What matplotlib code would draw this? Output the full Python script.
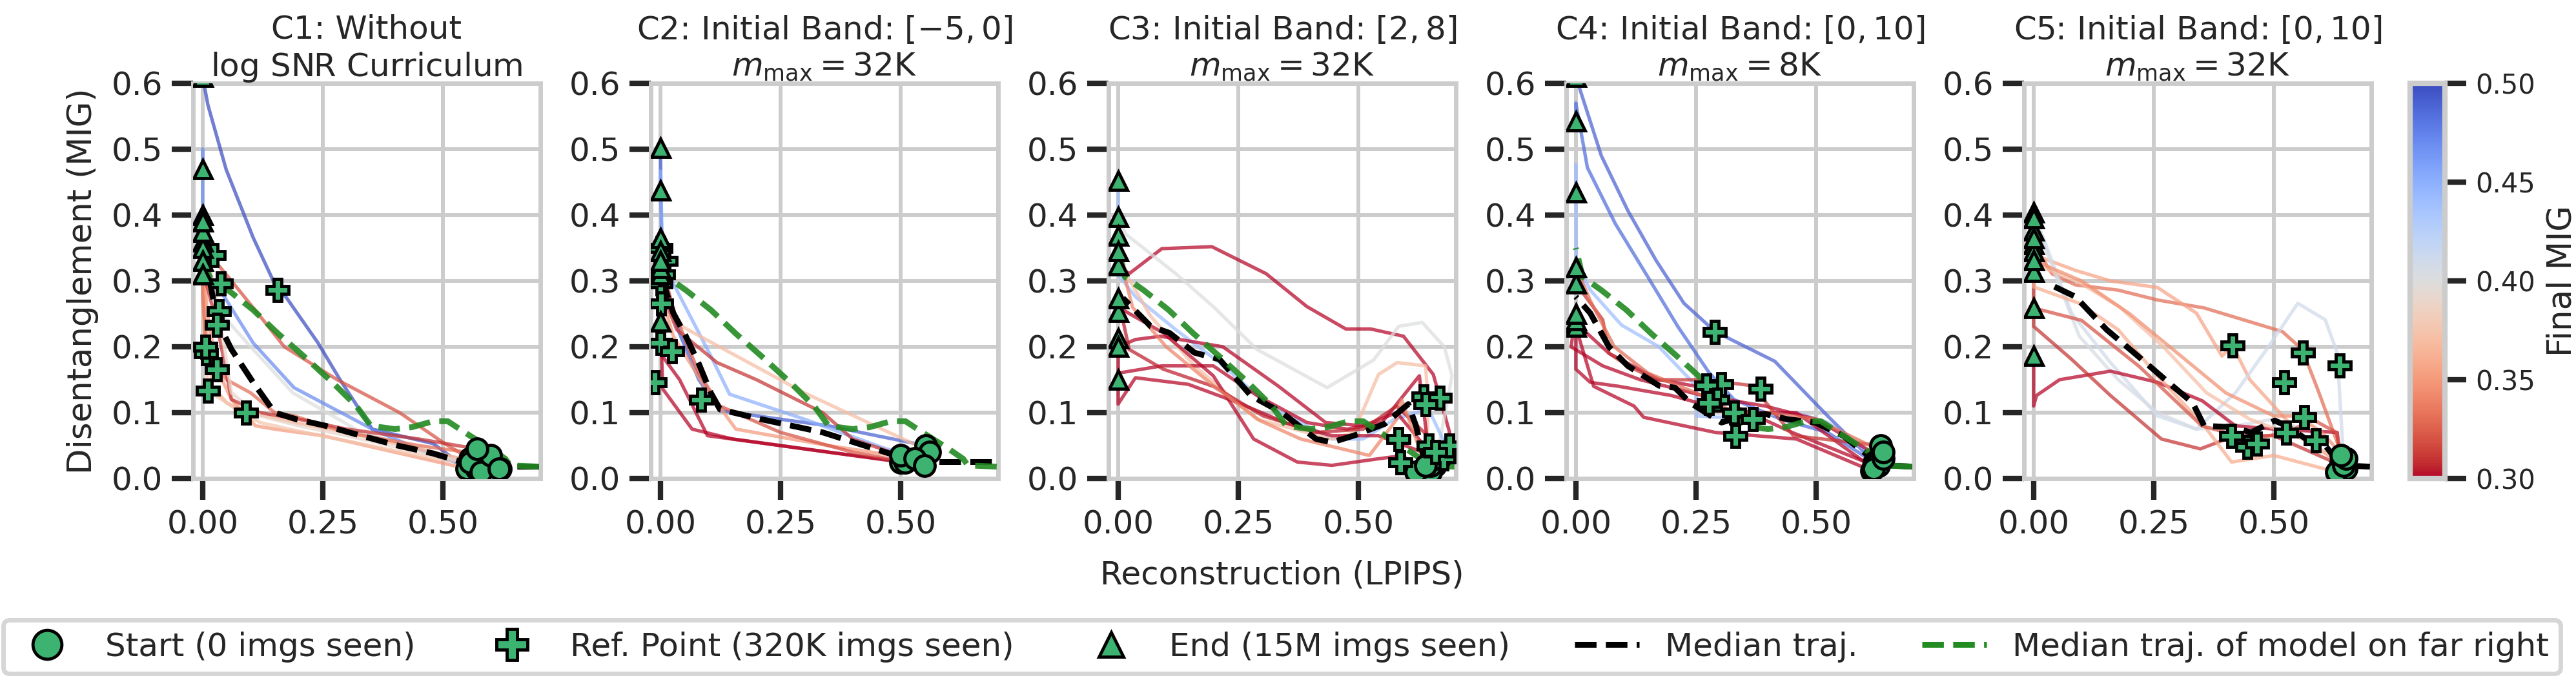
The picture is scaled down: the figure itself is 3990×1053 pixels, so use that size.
import numpy as np
import matplotlib
matplotlib.use("Agg")
import matplotlib.pyplot as plt
import seaborn as sns
from matplotlib.colors import Normalize
from matplotlib.lines import Line2D
from matplotlib.cm import ScalarMappable

sns.set_theme(style="whitegrid")
plt.rcParams["font.family"] = ["DejaVu Sans"]
plt.rcParams["mathtext.fontset"] = "dejavusans"

# ---- data ----
titles = [
    "C1: Without\n$\\log\\,$SNR Curriculum",
    "C2: Initial Band: $[-5, 0]$\n$m_{\\max} = 32$K",
    "C3: Initial Band: $[2, 8]$\n$m_{\\max} = 32$K",
    "C4: Initial Band: $[0, 10]$\n$m_{\\max} = 8$K",
    "C5: Initial Band: $[0, 10]$\n$m_{\\max} = 32$K",
]

# trajectories: (lpips list, mig list), from start to end
c1_traj = [
    ([0.55, 0.48, 0.353, 0.286, 0.24, 0.173, 0.156, 0.105, 0.049, 0.011, 0.0],
     [0.015, 0.053, 0.075, 0.15, 0.206, 0.276, 0.286, 0.366, 0.469, 0.567, 0.61]),
    ([0.57, 0.48, 0.353, 0.19, 0.105, 0.045, 0.02, 0.003, 0.0, 0.0, 0.0],
     [0.015, 0.035, 0.075, 0.138, 0.206, 0.276, 0.30, 0.33, 0.42, 0.50, 0.47]),
    ([0.556, 0.50, 0.41, 0.28, 0.17, 0.12, 0.06, 0.026, 0.01, 0.0],
     [0.03, 0.055, 0.10, 0.15, 0.20, 0.246, 0.30, 0.33, 0.33, 0.31]),
    ([0.556, 0.48, 0.33, 0.188, 0.10, 0.034, 0.01, 0.0],
     [0.025, 0.04, 0.07, 0.13, 0.20, 0.254, 0.30, 0.40]),
    ([0.60, 0.45, 0.30, 0.19, 0.13, 0.09, 0.05, 0.02, 0.005, 0.0],
     [0.02, 0.045, 0.07, 0.085, 0.095, 0.10, 0.115, 0.14, 0.25, 0.36]),
    ([0.58, 0.40, 0.25, 0.15, 0.11, 0.06, 0.03, 0.01, 0.0],
     [0.01, 0.04, 0.065, 0.075, 0.08, 0.12, 0.166, 0.25, 0.35]),
    ([0.62, 0.45, 0.28, 0.18, 0.12, 0.08, 0.04, 0.011, 0.0, 0.0],
     [0.015, 0.035, 0.06, 0.075, 0.085, 0.10, 0.12, 0.133, 0.25, 0.375]),
    ([0.60, 0.45, 0.30, 0.19, 0.15, 0.10, 0.05, 0.008, 0.0, 0.0],
     [0.035, 0.05, 0.07, 0.095, 0.10, 0.13, 0.15, 0.19, 0.28, 0.33]),
    ([0.571, 0.45, 0.30, 0.20, 0.12, 0.06, 0.03, 0.01, 0.0],
     [0.045, 0.06, 0.075, 0.09, 0.10, 0.12, 0.233, 0.29, 0.31]),
    ([0.617, 0.45, 0.30, 0.20, 0.12, 0.06, 0.034, 0.01, 0.0],
     [0.015, 0.04, 0.065, 0.08, 0.095, 0.13, 0.25, 0.34, 0.39]),
]
c1_final = [0.50, 0.47, 0.32, 0.40, 0.36, 0.35, 0.375, 0.33, 0.31, 0.39]
c1_ref_x = [0.156, 0.0225, 0.0376, 0.034, 0.03, 0.0075, 0.03, 0.011, 0.09, 0.005]
c1_ref_y = [0.286, 0.339, 0.296, 0.254, 0.233, 0.19, 0.166, 0.133, 0.10, 0.20]
c1_med_x = [0.70, 0.60, 0.54, 0.48, 0.406, 0.33, 0.256, 0.195, 0.15, 0.105, 0.06, 0.03, 0.015, 0.004]
c1_med_y = [0.018, 0.018, 0.025, 0.038, 0.05, 0.065, 0.08, 0.09, 0.10, 0.146, 0.196, 0.24, 0.30, 0.356]

c2_traj = [
    ([0.552, 0.45, 0.35, 0.25, 0.124, 0.08, 0.04, 0.015, 0.003, 0.0],
     [0.05, 0.065, 0.08, 0.09, 0.103, 0.15, 0.22, 0.27, 0.33, 0.502]),
    ([0.55, 0.47, 0.30, 0.144, 0.105, 0.027, 0.005, 0.0, 0.0],
     [0.03, 0.045, 0.09, 0.128, 0.186, 0.296, 0.33, 0.467, 0.437]),
    ([0.56, 0.52, 0.30, 0.047, 0.02, 0.0],
     [0.04, 0.055, 0.13, 0.23, 0.26, 0.365]),
    ([0.50, 0.35, 0.15, 0.066, 0.005, 0.0],
     [0.025, 0.04, 0.06, 0.075, 0.136, 0.238]),
    ([0.51, 0.35, 0.20, 0.098, 0.04, 0.0, 0.0],
     [0.025, 0.04, 0.055, 0.065, 0.15, 0.19, 0.31]),
    ([0.50, 0.40, 0.338, 0.20, 0.118, 0.034, 0.01, 0.0],
     [0.035, 0.06, 0.10, 0.15, 0.176, 0.226, 0.27, 0.32]),
    ([0.53, 0.35, 0.157, 0.092, 0.027, 0.005, 0.0],
     [0.03, 0.05, 0.075, 0.14, 0.216, 0.27, 0.345]),
    ([0.55, 0.40, 0.25, 0.124, 0.08, 0.03, 0.0],
     [0.02, 0.04, 0.07, 0.11, 0.16, 0.25, 0.33]),
]
c2_final = [0.49, 0.45, 0.37, 0.30, 0.30, 0.31, 0.35, 0.32]
c2_ref_x = [0.0, 0.011, 0.0, 0.001, 0.0, 0.024, -0.012, 0.085, 0.005]
c2_ref_y = [0.35, 0.33, 0.296, 0.266, 0.206, 0.193, 0.146, 0.12, 0.31]
c2_med_x = [0.69, 0.584, 0.52, 0.468, 0.338, 0.21, 0.124, 0.105, 0.079, 0.053, 0.027, 0.011, 0.0]
c2_med_y = [0.025, 0.025, 0.028, 0.04, 0.07, 0.09, 0.105, 0.13, 0.176, 0.216, 0.251, 0.286, 0.326]

c3_traj = [
    ([0.64, 0.69, 0.656, 0.594, 0.526, 0.474, 0.393, 0.308, 0.195, 0.091, 0.023, 0.0],
     [0.01, 0.07, 0.158, 0.216, 0.227, 0.227, 0.261, 0.311, 0.352, 0.349, 0.311, 0.324]),
    ([0.66, 0.695, 0.679, 0.633, 0.584, 0.532, 0.435, 0.289, 0.198, 0.12, 0.016, 0.0],
     [0.02, 0.156, 0.20, 0.237, 0.231, 0.18, 0.138, 0.196, 0.261, 0.311, 0.371, 0.397]),
    ([0.65, 0.679, 0.653, 0.633, 0.575, 0.51, 0.445, 0.315, 0.211, 0.12, 0.036, 0.0, 0.0],
     [0.01, 0.055, 0.095, 0.103, 0.09, 0.06, 0.06, 0.11, 0.176, 0.226, 0.276, 0.31, 0.452]),
    ([0.64, 0.646, 0.64, 0.581, 0.542, 0.49, 0.445, 0.289, 0.159, 0.068, 0.016, 0.0],
     [0.02, 0.11, 0.171, 0.176, 0.158, 0.07, 0.06, 0.09, 0.171, 0.246, 0.311, 0.369]),
    ([0.65, 0.627, 0.549, 0.477, 0.393, 0.289, 0.198, 0.091, 0.0, 0.0],
     [0.02, 0.156, 0.085, 0.075, 0.085, 0.126, 0.171, 0.171, 0.16, 0.213]),
    ([0.67, 0.542, 0.445, 0.347, 0.25, 0.146, 0.036, 0.0, 0.0],
     [0.03, 0.065, 0.065, 0.085, 0.115, 0.143, 0.153, 0.113, 0.15]),
    ([0.66, 0.58, 0.51, 0.432, 0.334, 0.218, 0.088, 0.036, 0.0],
     [0.03, 0.10, 0.08, 0.085, 0.14, 0.20, 0.216, 0.211, 0.20]),
    ([0.62, 0.594, 0.542, 0.445, 0.373, 0.282, 0.198, 0.094, 0.01, 0.0],
     [0.01, 0.035, 0.03, 0.02, 0.025, 0.06, 0.156, 0.221, 0.256, 0.253]),
    ([0.68, 0.58, 0.51, 0.412, 0.302, 0.198, 0.094, 0.023, 0.0],
     [0.04, 0.11, 0.075, 0.07, 0.095, 0.14, 0.166, 0.196, 0.274]),
    ([0.64, 0.59, 0.58, 0.523, 0.38, 0.295, 0.20, 0.10, 0.03, 0.0],
     [0.02, 0.12, 0.09, 0.035, 0.06, 0.088, 0.14, 0.20, 0.26, 0.345]),
]
c3_final = [0.30, 0.40, 0.44, 0.37, 0.30, 0.30, 0.30, 0.30, 0.305, 0.34]
c3_ref_x = [0.636, 0.669, 0.64, 0.584, 0.588, 0.646, 0.678, 0.69, 0.66]
c3_ref_y = [0.125, 0.123, 0.113, 0.06, 0.025, 0.05, 0.03, 0.05, 0.04]
c3_med_x = [0.64, 0.62, 0.604, 0.555, 0.49, 0.445, 0.412, 0.341, 0.276, 0.211, 0.159, 0.107, 0.068, 0.01]
c3_med_y = [0.02, 0.08, 0.113, 0.083, 0.065, 0.055, 0.06, 0.10, 0.126, 0.181, 0.191, 0.221, 0.231, 0.274]

c4_traj = [
    ([0.621, 0.524, 0.414, 0.29, 0.225, 0.167, 0.108, 0.053, 0.0],
     [0.025, 0.095, 0.178, 0.223, 0.266, 0.331, 0.407, 0.49, 0.61]),
    ([0.63, 0.524, 0.427, 0.329, 0.277, 0.212, 0.154, 0.082, 0.024, 0.0, 0.0],
     [0.02, 0.07, 0.09, 0.12, 0.161, 0.231, 0.301, 0.387, 0.472, 0.57, 0.542]),
    ([0.63, 0.524, 0.459, 0.297, 0.251, 0.251, 0.173, 0.095, 0.03, 0.001, 0.0, 0.0],
     [0.03, 0.085, 0.10, 0.093, 0.095, 0.14, 0.20, 0.233, 0.286, 0.326, 0.477, 0.434]),
    ([0.62, 0.45, 0.30, 0.251, 0.173, 0.069, 0.0],
     [0.02, 0.07, 0.12, 0.14, 0.15, 0.19, 0.236]),
    ([0.615, 0.459, 0.29, 0.141, 0.121, 0.037, 0.0],
     [0.012, 0.06, 0.07, 0.093, 0.11, 0.14, 0.23]),
    ([0.62, 0.459, 0.329, 0.199, 0.089, 0.03, 0.0, 0.0],
     [0.015, 0.10, 0.10, 0.126, 0.14, 0.146, 0.166, 0.24]),
    ([0.64, 0.50, 0.394, 0.264, 0.134, 0.056, -0.01, 0.0],
     [0.03, 0.09, 0.11, 0.126, 0.15, 0.171, 0.20, 0.25]),
    ([0.634, 0.453, 0.407, 0.368, 0.264, 0.167, 0.108, 0.069, 0.056, 0.0],
     [0.05, 0.065, 0.105, 0.141, 0.15, 0.15, 0.171, 0.19, 0.241, 0.296]),
    ([0.64, 0.50, 0.40, 0.33, 0.25, 0.15, 0.08, 0.03, 0.0],
     [0.04, 0.09, 0.10, 0.10, 0.13, 0.16, 0.20, 0.27, 0.321]),
]
c4_final = [0.49, 0.485, 0.44, 0.30, 0.30, 0.30, 0.30, 0.31, 0.33]
c4_ref_x = [0.289, 0.303, 0.271, 0.294, 0.384, 0.329, 0.368, 0.332, 0.277]
c4_ref_y = [0.223, 0.143, 0.141, 0.12, 0.136, 0.10, 0.09, 0.065, 0.115]
c4_med_x = [0.70, 0.647, 0.608, 0.556, 0.498, 0.44, 0.394, 0.349, 0.303, 0.238, 0.206, 0.173, 0.108, 0.069, 0.03, 0.0]
c4_med_y = [0.018, 0.02, 0.035, 0.065, 0.085, 0.09, 0.098, 0.095, 0.085, 0.115, 0.138, 0.141, 0.171, 0.2, 0.251, 0.276]

c5_traj = [
    ([0.644, 0.632, 0.591, 0.559, 0.518, 0.355, 0.258, 0.176, 0.087, 0.038, 0.0],
     [0.02, 0.055, 0.136, 0.196, 0.223, 0.259, 0.271, 0.286, 0.294, 0.311, 0.356]),
    ([0.65, 0.55, 0.45, 0.414, 0.392, 0.339, 0.258, 0.16, 0.087, 0.014, 0.0],
     [0.015, 0.07, 0.15, 0.202, 0.186, 0.251, 0.29, 0.30, 0.316, 0.336, 0.376]),
    ([0.645, 0.632, 0.607, 0.55, 0.485, 0.42, 0.339, 0.258, 0.16, 0.079, 0.0],
     [0.03, 0.191, 0.241, 0.266, 0.196, 0.13, 0.075, 0.095, 0.176, 0.251, 0.404]),
    ([0.64, 0.58, 0.50, 0.42, 0.339, 0.258, 0.176, 0.095, 0.0],
     [0.025, 0.07, 0.09, 0.08, 0.075, 0.10, 0.15, 0.216, 0.395]),
    ([0.64, 0.632, 0.502, 0.42, 0.351, 0.258, 0.16, 0.054, 0.006, 0.0, 0.0],
     [0.02, 0.07, 0.075, 0.08, 0.118, 0.146, 0.163, 0.15, 0.126, 0.11, 0.186]),
    ([0.64, 0.50, 0.42, 0.347, 0.266, 0.16, 0.079, 0.0, 0.0],
     [0.02, 0.065, 0.065, 0.045, 0.06, 0.126, 0.181, 0.231, 0.314]),
    ([0.63, 0.50, 0.412, 0.355, 0.258, 0.176, 0.095, 0.0, 0.0],
     [0.01, 0.035, 0.025, 0.08, 0.156, 0.226, 0.266, 0.291, 0.345]),
    ([0.645, 0.56, 0.45, 0.36, 0.27, 0.18, 0.09, 0.02, 0.0],
     [0.02, 0.06, 0.09, 0.13, 0.20, 0.26, 0.30, 0.32, 0.365]),
    ([0.65, 0.60, 0.55, 0.50, 0.40, 0.30, 0.20, 0.10, 0.0],
     [0.03, 0.07, 0.095, 0.095, 0.13, 0.19, 0.25, 0.30, 0.331]),
    ([0.64, 0.63, 0.58, 0.53, 0.45, 0.35, 0.22, 0.10, 0.0],
     [0.035, 0.07, 0.09, 0.07, 0.06, 0.08, 0.17, 0.24, 0.259]),
]
c5_final = [0.33, 0.355, 0.41, 0.405, 0.30, 0.31, 0.36, 0.37, 0.345, 0.32]
c5_ref_x = [0.414, 0.56, 0.637, 0.522, 0.563, 0.526, 0.587, 0.412, 0.445, 0.465]
c5_ref_y = [0.202, 0.191, 0.172, 0.146, 0.093, 0.07, 0.058, 0.065, 0.048, 0.053]
c5_med_x = [0.70, 0.64, 0.607, 0.567, 0.526, 0.502, 0.453, 0.412, 0.355, 0.331, 0.29, 0.217, 0.152, 0.087, 0.03]
c5_med_y = [0.018, 0.02, 0.05, 0.06, 0.08, 0.088, 0.07, 0.078, 0.08, 0.115, 0.14, 0.186, 0.226, 0.276, 0.296]

# median trajectory of the model on the far right (drawn in C1-C4)
far_x = [0.70, 0.64, 0.63, 0.60, 0.55, 0.51, 0.48, 0.436, 0.40, 0.35, 0.32, 0.27, 0.21, 0.157, 0.105, 0.053, 0.014, 0.0]
far_y = [0.018, 0.02, 0.03, 0.045, 0.068, 0.087, 0.087, 0.078, 0.075, 0.08, 0.11, 0.146, 0.186, 0.22, 0.256, 0.286, 0.306, 0.35]

panels = [
    (c1_traj, c1_final, c1_ref_x, c1_ref_y, c1_med_x, c1_med_y, True),
    (c2_traj, c2_final, c2_ref_x, c2_ref_y, c2_med_x, c2_med_y, True),
    (c3_traj, c3_final, c3_ref_x, c3_ref_y, c3_med_x, c3_med_y, True),
    (c4_traj, c4_final, c4_ref_x, c4_ref_y, c4_med_x, c4_med_y, True),
    (c5_traj, c5_final, c5_ref_x, c5_ref_y, c5_med_x, c5_med_y, False),
]

# ---- figure ----
W, H = 3991, 1053
fig = plt.figure(figsize=(W / 100, H / 100), dpi=100)

cmap = plt.get_cmap("coolwarm_r")
norm = Normalize(0.30, 0.50)
green = "#3cb371"
grey = "#cccccc"
dark = "#262626"

ax_w = 538 / W
step = 709 / W
bot = 312 / H
ax_h = 612 / H

axes = []
for i, (traj, final, rx, ry, mx, my, show_far) in enumerate(panels):
    ax = fig.add_axes([299 / W + i * step, bot, ax_w, ax_h])
    axes.append(ax)
    for (xs, ys), f in zip(traj, final):
        ax.plot(xs, ys, color=cmap(norm(f)), lw=3.8, alpha=0.72, zorder=2)
    ax.plot(mx, my, color="black", ls="--", lw=6.5, zorder=4)
    if show_far:
        ax.plot(far_x, far_y, color="forestgreen", ls="--", lw=6.5, alpha=0.9, zorder=4)
    sx = [t[0][0] for t in traj]
    sy = [t[1][0] for t in traj]
    ex = [t[0][-1] for t in traj]
    ey = [t[1][-1] for t in traj]
    ax.plot(sx, sy, ls="", marker="o", ms=23, mfc=green, mec="black", mew=3.5, zorder=5)
    ax.plot(rx, ry, ls="", marker="P", ms=25, mfc=green, mec="black", mew=3.5, zorder=6)
    ax.plot(ex, ey, ls="", marker="^", ms=20, mfc=green, mec="black", mew=3.5, zorder=7)

    ax.set_xlim(-0.02, 0.703)
    ax.set_ylim(0, 0.6)
    ax.set_xticks([0, 0.25, 0.5])
    ax.set_xticklabels(["0.00", "0.25", "0.50"])
    ax.set_yticks(np.arange(0, 0.61, 0.1))
    ax.set_yticklabels([f"{v:.1f}" for v in np.arange(0, 0.61, 0.1)])
    ax.tick_params(axis="both", bottom=True, left=True, direction="out", length=24,
                   width=6, color=dark, labelsize=36, pad=10, labelcolor=dark)
    ax.grid(True, color=grey, lw=4.3)
    for sp in ax.spines.values():
        sp.set_color(grey)
        sp.set_linewidth(5)
    ax.set_title(titles[i], fontsize=36, color=dark, pad=8)

axes[0].set_ylabel("Disentanglement (MIG)", fontsize=37, color=dark, labelpad=14)
axes[2].set_xlabel("Reconstruction (LPIPS)", fontsize=36, color=dark, labelpad=22)

# colorbar
cax = fig.add_axes([3733 / W, bot, 54 / W, ax_h])
sm = ScalarMappable(norm=norm, cmap=cmap)
cb = fig.colorbar(sm, cax=cax, ticks=[0.30, 0.35, 0.40, 0.45, 0.50])
cb.ax.set_yticklabels(["0.30", "0.35", "0.40", "0.45", "0.50"])
cb.outline.set_edgecolor(grey)
cb.outline.set_linewidth(6)
cb.ax.tick_params(right=True, length=24, width=6, color=dark, labelsize=30, pad=10, labelcolor=dark)
cb.set_label("Final MIG", fontsize=37, color=dark, labelpad=12)

# legend
handles = [
    Line2D([], [], ls="", marker="o", ms=23, mfc=green, mec="black", mew=3.5),
    Line2D([], [], ls="", marker="P", ms=25, mfc=green, mec="black", mew=3.5),
    Line2D([], [], ls="", marker="^", ms=20, mfc=green, mec="black", mew=3.5),
    Line2D([], [], color="black", ls="--", lw=6.5),
    Line2D([], [], color="forestgreen", ls="--", lw=6.5),
]
labels = ["Start (0 imgs seen)", "Ref. Point (320K imgs seen)", "End (15M imgs seen)",
          "Median traj.", "Median traj. of model on far right"]
leg = fig.legend(handles, labels, loc="upper center", bbox_to_anchor=(0.4975, 0.112),
                 ncol=5, fontsize=36, frameon=True, fancybox=True, markerscale=1.4,
                 borderpad=0.35)
leg.get_frame().set_edgecolor(grey)
leg.get_frame().set_linewidth(5)
for t in leg.get_texts():
    t.set_color(dark)

fig.savefig("out.png", dpi=100)
